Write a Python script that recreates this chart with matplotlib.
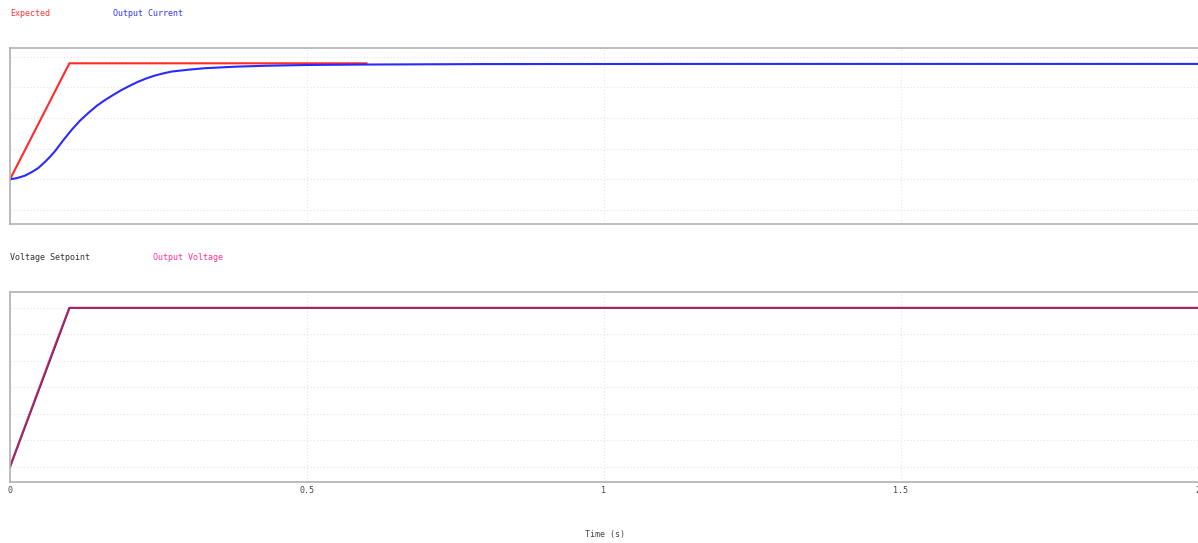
import numpy as np
import matplotlib as mpl
mpl.use("Agg")
from matplotlib import pyplot as plt

# current loop (arbitrary units)
t_expected = [0.0, 0.1, 0.6]
i_expected = [1.0, 4.79, 4.79]

t_current = [0.0, 0.0118, 0.0253, 0.037, 0.0477, 0.0606, 0.068, 0.0758, 0.089, 0.104,
             0.118, 0.132, 0.146, 0.160, 0.174, 0.188, 0.202, 0.216, 0.230, 0.244,
             0.258, 0.272, 0.30, 0.328, 0.38, 0.43, 0.5, 0.6, 0.8, 1.2, 2.0]
i_current = [1.0, 1.04, 1.12, 1.24, 1.37, 1.60, 1.75, 1.92, 2.26, 2.62,
             2.92, 3.17, 3.40, 3.59, 3.76, 3.92, 4.06, 4.19, 4.30, 4.39,
             4.46, 4.52, 4.58, 4.63, 4.68, 4.71, 4.735, 4.75, 4.765, 4.77, 4.77]

# voltage loop
t_setpoint = [0.0, 0.1, 2.0]
v_setpoint = [0.0, 6.0, 6.0]
t_voltage = [0.0, 0.08, 0.1, 2.0]
v_voltage = [0.0, 4.85, 6.0, 6.0]

x_ticks = [0, 0.5, 1, 1.5, 2]
x_ticklabels = ["0", "0.5", "1", "1.5", "2"]

mono = "DejaVu Sans Mono"
W, H = 1198, 543
fig = plt.figure(figsize=(W / 100, H / 100), dpi=100)

def px(x0, y0, x1, y1):
    return [x0 / W, 1 - y1 / H, (x1 - x0) / W, (y1 - y0) / H]

ax1 = fig.add_axes(px(10, 48, 1198, 224))
ax2 = fig.add_axes(px(10, 292, 1198, 482))

for ax in (ax1, ax2):
    ax.set_xlim(0, 2)
    ax.set_xticks(x_ticks)
    ax.grid(True, color="#e4e4e4", linestyle=(0, (1, 2)), linewidth=0.8)
    ax.set_axisbelow(True)
    for side in ("top", "bottom", "left"):
        ax.spines[side].set_color("#b0b0b0")
        ax.spines[side].set_linewidth(1.2)
    ax.spines["right"].set_visible(False)
    ax.tick_params(length=0, left=False, labelleft=False)

ax1.set_ylim(-0.46, 5.29)
ax1.set_yticks([0, 1, 2, 3, 4, 5])
ax1.tick_params(labelbottom=False)
ax1.plot(t_expected, i_expected, color="#ff2a2a", lw=1.5)
ax1.plot(t_current, i_current, color="#2a2aff", lw=1.5, solid_joinstyle="round")

ax2.set_ylim(-0.57, 6.6)
ax2.set_yticks([0, 1, 2, 3, 4, 5, 6])
ax2.plot(t_setpoint, v_setpoint, color="#3a1030", lw=1.5)
ax2.plot(t_voltage, v_voltage, color="#ff3399", lw=1.5, alpha=0.55)
ax2.set_xticklabels(x_ticklabels, fontfamily=mono, fontsize=6, color="#444444")
ax2.tick_params(axis="x", pad=3)

fig.text(10 / W, 1 - 13 / H, "Expected", color="#ff3333", fontfamily=mono, fontsize=6, va="center")
fig.text(113 / W, 1 - 13 / H, "Output Current", color="#3333ff", fontfamily=mono, fontsize=6, va="center")
fig.text(10 / W, 1 - 257 / H, "Voltage Setpoint", color="#333333", fontfamily=mono, fontsize=6, va="center")
fig.text(153 / W, 1 - 257 / H, "Output Voltage", color="#ff3399", fontfamily=mono, fontsize=6, va="center")
fig.text(605 / W, 1 - 535 / H, "Time (s)", color="#444444", fontfamily=mono, fontsize=6, va="center", ha="center")

fig.savefig("out.png", dpi=100, facecolor="white")
